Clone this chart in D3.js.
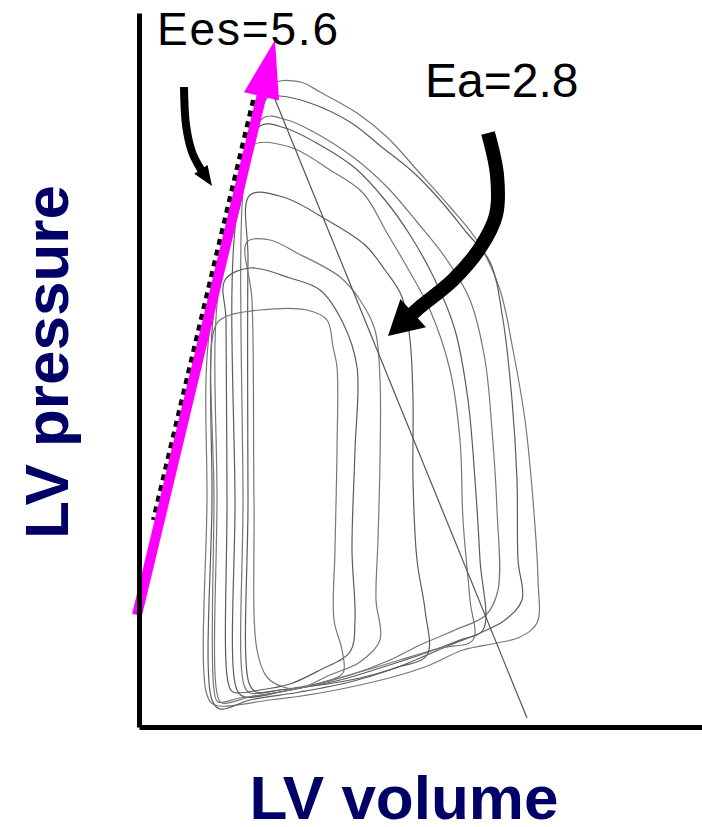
<!DOCTYPE html>
<html>
<head>
<meta charset="utf-8">
<script src="https://cdn.jsdelivr.net/npm/d3@7"></script>
<style>
  body { margin: 0; background: #fff; }
  svg { display: block; }
</style>
</head>
<body>
<div id="chart-area"></div>
<script>
// PV loops: [volume, pressure]
var loop1 = [[26.6,128.4],[32.2,129],[36.2,127],[43.6,122.8],[49.6,118],[55.6,111.4],[62.2,104],[67.8,97],[72.2,87.4],[74.8,75.4],[77.2,61.4],[78.8,45.4],[79.8,29.4],[79.6,20.8],[76.2,18],[71.6,16.8],[64.8,15.4],[58.2,12.4],[52.2,10.4],[44.2,8.4],[36.2,6.8],[26.2,5.4],[15.2,4.4],[13.6,6.4],[13.6,45.4],[14,78.4],[20.2,105.4]];
var loop2 = [[25.8,126],[28.2,126.2],[34.2,124.8],[42.2,121],[48.8,115.8],[54.8,111],[60.2,105.4],[65.6,98.8],[70.2,93],[72.8,81.4],[74.6,65.4],[75.6,49.4],[75.8,33.4],[76.6,25.4],[73.2,21.4],[68.2,18.8],[62.2,16.4],[56.2,13.8],[50.2,11.4],[42.2,9],[32.2,7],[22.2,5.4],[16.2,3.6],[14.6,5.4],[14.6,45.4],[15,83.4],[20.2,104.4]];
var loop3 = [[24.8,121.8],[29.6,121.4],[34.2,119.4],[42.8,114],[49.6,108],[55.6,101],[61.6,93.4],[66.2,85.4],[69.2,73.4],[70.6,59.4],[71.6,43.4],[71.8,27.4],[69.4,22.4],[63.2,19.4],[56.2,16.4],[50.2,13.4],[42.2,10.4],[32.2,7.8],[22.2,6],[16.6,4.8],[15.6,6.8],[15.6,45.4],[15.8,86.4],[20.2,104.4]];
var loop4 = [[24.2,120.2],[29.2,119.8],[36.2,116.4],[43.2,111.8],[49.2,105.4],[54.2,98.4],[59.2,89.4],[63.2,79.4],[65.8,65.4],[67.2,49.4],[68.2,33.4],[68.8,19.4],[64.2,17.4],[56.2,14.4],[48.2,11.8],[40.2,9.4],[30.2,7.4],[21.2,6],[19.6,7.4],[19.2,45.4],[19.4,101.4]];
var loop5 = [[22.8,116.4],[30.2,116],[38.2,111.4],[44.8,106.8],[49.6,98.8],[53.6,92],[58.2,83.4],[62.2,71.4],[64.2,57.4],[64.8,41.4],[66.2,25.4],[66.8,17.4],[60.2,15.8],[52.2,13.4],[44.2,11],[36.2,8.8],[28.2,7.4],[22.2,6.8],[21,8.4],[20.8,45.4],[21,109.4]];
var loop6 = [[22.2,106.4],[28.8,106],[37.6,101.4],[45.2,96.4],[49.2,91.4],[52.6,86],[54.2,77.4],[54.8,65.4],[54.8,49.4],[55.6,33.4],[57.2,23.4],[57.6,14.4],[51.2,11.8],[44.2,9.8],[36.2,8.4],[28.2,7.4],[23.4,7],[22,8.8],[21.8,45.4],[21.8,93.4]];
var loop7 = [[21.6,97],[26.2,97.4],[31.6,94.8],[40.2,90],[44.2,85.4],[47.2,79.4],[48.2,69.4],[48.2,53.4],[47.8,37.4],[47.4,25.4],[48.2,17.4],[44.2,13],[38.2,10.4],[32.2,7.8],[28.8,8],[25.6,10],[23.6,15.4],[23,45.4],[22.6,85.4]];
var loop8 = [[17.2,89.4],[22.2,91.8],[30.2,89.8],[36.2,87.4],[40.8,80.8],[43.6,72],[43.2,55.4],[42.6,35.4],[43.2,21.4],[42.2,15],[36.2,11.4],[30.2,8.6],[24.2,7.4],[18.8,7],[17.8,9],[17.6,45.4],[17.4,81.4]];
var loop9 = [[15.2,80],[17.2,82],[24.2,83.4],[33.6,83.4],[37.6,81.4],[38.8,76],[39.6,72],[39.6,55.4],[39.2,35.4],[39,21.4],[40.6,15.4],[40.8,10.8],[36.2,8.8],[28.2,7],[20.2,5.8],[15.8,5],[15,7.4],[15,45.4]];
var loops = [loop1, loop2, loop3, loop4, loop5, loop6, loop7, loop8, loop9];

// ESPVR (dashed), Ees arrow and Ea line
var espvr = [[22.9,125.4],[2.9,41.4]];
var eesArrow = [[-0.4,22.4],[27.2,137.4]];
var eaLine = [[26.6,127],[77.6,1.8]];

// curved annotation arrows, last point is the tip
var arrowLeft = [[9,128],[9.4,120.4],[10.6,115],[12.2,111.8],[14.6,108.2]];
var arrowRight = [[69.8,118.8],[71.6,110.4],[71.4,102.4],[68.2,95.8],[62.8,89.4],[56.2,84],[49.8,78.2]];

var labels = {ees: "Ees=5.6", ea: "Ea=2.8", xTitle: "LV volume", yTitle: "LV pressure"};

var W = 702, H = 827;

var svg = d3.select("#chart-area").append("svg")
    .attr("width", W)
    .attr("height", H);

var x = d3.scaleLinear().domain([0, 112.6]).range([139, 702]);
var y = d3.scaleLinear().domain([0, 142.8]).range([727, 13]);

var loopLine = d3.line()
    .x(function(d){ return x(d[0]); })
    .y(function(d){ return y(d[1]); })
    .curve(d3.curveCatmullRomClosed.alpha(0.5));

var plainLine = d3.line()
    .x(function(d){ return x(d[0]); })
    .y(function(d){ return y(d[1]); });

var curvedLine = d3.line()
    .x(function(d){ return d[0]; })
    .y(function(d){ return d[1]; })
    .curve(d3.curveCatmullRom.alpha(0.5));

// loops
svg.append("g").selectAll("path")
  .data(loops)
  .enter().append("path")
    .attr("d", loopLine)
    .attr("fill", "none")
    .attr("stroke", function(d,i){ return i % 2 ? "#5c5c5c" : "#777"; })
    .attr("stroke-width", 1.2);

// Ea line
svg.append("path")
    .attr("d", plainLine(eaLine))
    .attr("stroke", "#555")
    .attr("stroke-width", 1.2)
    .attr("fill", "none");

// ESPVR dashed
svg.append("path")
    .attr("d", plainLine(espvr))
    .attr("stroke", "#000")
    .attr("stroke-width", 5)
    .attr("stroke-dasharray", "6,5")
    .attr("fill", "none");

// arrow helper: shaft + triangle head, in pixels
function drawArrow(pts, color, shaftW, headLen, headHalf) {
  var px = pts.map(function(d){ return [x(d[0]), y(d[1])]; });
  var tip = px[px.length - 1];
  var prev = px[px.length - 2];
  var dx = tip[0] - prev[0], dy = tip[1] - prev[1];
  var len = Math.sqrt(dx*dx + dy*dy);
  var ux = dx/len, uy = dy/len;
  var base = [tip[0] - ux*headLen, tip[1] - uy*headLen];
  var shaft = px.slice(0, px.length - 1);
  shaft.push([base[0] + ux*2, base[1] + uy*2]);
  svg.append("path")
      .attr("d", shaft.length > 2 ? curvedLine(shaft) : d3.line()(shaft))
      .attr("stroke", color)
      .attr("stroke-width", shaftW)
      .attr("fill", "none")
      .attr("stroke-linecap", "butt");
  svg.append("path")
      .attr("d", "M" + tip[0] + "," + tip[1] +
        "L" + (base[0] - uy*headHalf) + "," + (base[1] + ux*headHalf) +
        "L" + (base[0] + uy*headHalf) + "," + (base[1] - ux*headHalf) + "Z")
      .attr("fill", color);
}

drawArrow(eesArrow, "#ff00ff", 10, 58, 18);
drawArrow(arrowLeft, "#000", 8, 20, 8);
drawArrow(arrowRight, "#000", 14, 34, 19);

// axes
var yAxis = svg.append("g")
    .attr("transform", "translate(139,0)")
    .call(d3.axisLeft(y).ticks(0).tickSizeOuter(0));
var xAxis = svg.append("g")
    .attr("transform", "translate(0,727)")
    .call(d3.axisBottom(x).ticks(0).tickSizeOuter(0));
svg.selectAll(".domain")
    .attr("stroke", "#000")
    .attr("stroke-width", 5);

// annotations
svg.append("text")
    .attr("x", 157)
    .attr("y", 45)
    .attr("font-family", "Liberation Sans, Arial, sans-serif")
    .attr("font-size", "46px")
    .attr("textLength", 181)
    .attr("fill", "#000")
    .text(labels.ees);

svg.append("text")
    .attr("x", 425)
    .attr("y", 97)
    .attr("font-family", "Liberation Sans, Arial, sans-serif")
    .attr("font-size", "48px")
    .attr("fill", "#000")
    .text(labels.ea);

// axis titles
svg.append("text")
    .attr("x", 404)
    .attr("y", 819)
    .attr("text-anchor", "middle")
    .attr("font-family", "Liberation Sans, Arial, sans-serif")
    .attr("font-weight", "bold")
    .attr("font-size", "62px")
    .attr("fill", "#000066")
    .text(labels.xTitle);

svg.append("text")
    .attr("transform", "translate(68,362) rotate(-90)")
    .attr("text-anchor", "middle")
    .attr("font-family", "Liberation Sans, Arial, sans-serif")
    .attr("font-weight", "bold")
    .attr("font-size", "62px")
    .attr("fill", "#000066")
    .text(labels.yTitle);
</script>
</body>
</html>
